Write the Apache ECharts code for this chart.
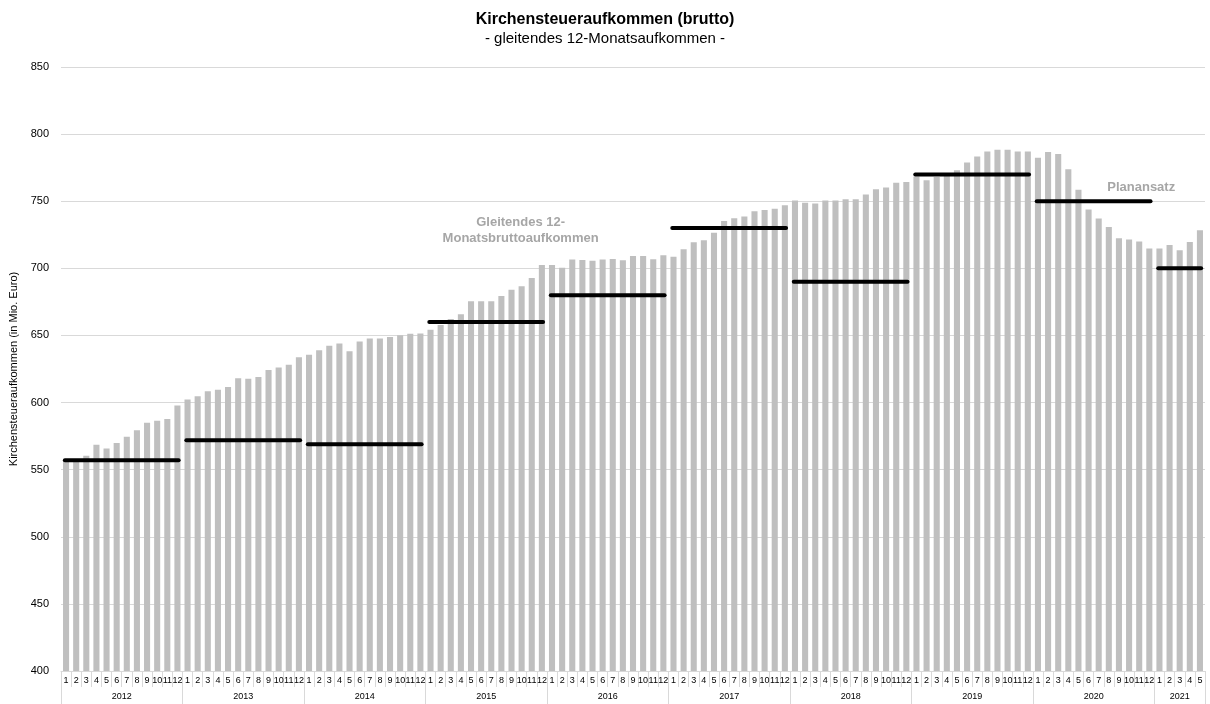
<!DOCTYPE html>
<html>
<head>
<meta charset="utf-8">
<script src="https://cdn.jsdelivr.net/npm/echarts@6/dist/echarts.min.js"></script>
<style>html,body{margin:0;padding:0;background:#fff;}#c{width:1210px;height:704px;}</style>
</head>
<body>
<div id="c"></div>
<script>
const years = ['2012','2013','2014','2015','2016','2017','2018','2019','2020','2021'];
const monthsPerYear = [12,12,12,12,12,12,12,12,12,5];
const yTicks = [400,450,500,550,600,650,700,750,800,850];

// gleitendes 12-Monatsbruttoaufkommen (Mio. Euro)
const values = [
  557.5, 557, 560.3, 568.5, 565.8, 569.8, 574.5, 579.3, 585, 586.5, 587.8, 597.8,
  602.3, 604.7, 608.5, 609.5, 611.5, 618.1, 617.8, 619.1, 624.3, 626.1, 628.1, 633.8,
  635.6, 639, 642.3, 644, 638.3, 645.5, 647.8, 647.8, 648.8, 650.2, 651.2, 651.5,
  654.2, 657.7, 662.2, 665.7, 675.4, 675.4, 675.4, 679.4, 684.1, 686.6, 692.8, 702.5,
  702.5, 700.5, 706.5, 706.2, 705.7, 706.5, 707, 706, 709.2, 709.2, 706.7, 709.7,
  708.7, 714.2, 719.4, 720.9, 726.6, 735.3, 737.3, 738.6, 742.5, 743.5, 744.3, 747,
  750.5, 748.8, 748.3, 750.5, 750.5, 751.5, 751.5, 755, 759, 760.2, 763.7, 764.4,
  768.4, 765.7, 768, 769, 773.1, 778.9, 783.3, 787.1, 788.3, 788.3, 787.1, 787.1,
  782.3, 786.6, 785.1, 773.9, 758.5, 743.8, 737.1, 730.8, 722.4, 721.4, 719.9, 714.7,
  714.7, 717.4, 713.4, 719.7, 728.4
];

// Planansatz per year
const plan = [557, 572, 569, 660, 680, 730, 690, 770, 750, 700];

const annotationTexts = ['Gleitendes 12-\nMonatsbruttoaufkommen', 'Planansatz'];
const annotationX = [45.4, 106.7];
const annotationY = [728.5, 760.5];

// build categories
const categories = [];
const yearStart = [];
const yearMid = [];
let idx = 0;
years.forEach((y, i) => {
  yearStart.push(idx);
  yearMid.push(idx + monthsPerYear[i] / 2);
  for (let m = 1; m <= monthsPerYear[i]; m++) categories.push(y + '-' + m);
  idx += monthsPerYear[i];
});
const total = idx;
const yearBounds = yearStart.concat([total]);
const planData = plan.map((v, i) => [yearStart[i], yearStart[i] + monthsPerYear[i] - 1, v]);
const annData = annotationTexts.map((t, i) => [annotationX[i], annotationY[i], i]);

const FONT = '"Liberation Sans", Arial, sans-serif';
const chart = echarts.init(document.getElementById('c'), null, {renderer: 'canvas'});
chart.setOption({
  animation: false,
  textStyle: {fontFamily: FONT},
  title: {
    text: 'Kirchensteueraufkommen (brutto)',
    subtext: '- gleitendes 12-Monatsaufkommen -',
    left: 'center', top: 7, itemGap: 3,
    textStyle: {fontFamily: FONT, fontSize: 16, fontWeight: 'bold', color: '#000'},
    subtextStyle: {fontFamily: FONT, fontSize: 15, color: '#000'}
  },
  grid: {left: 61, right: 5, top: 67, bottom: 33, containLabel: false},
  xAxis: [
    {
      type: 'category', data: categories, boundaryGap: true,
      axisLine: {show: true, lineStyle: {color: '#d9d9d9'}},
      axisTick: {show: true, interval: 0, length: 16, lineStyle: {color: '#d9d9d9'}},
      axisLabel: {interval: 0, fontSize: 9, color: '#000', margin: 5, fontFamily: FONT,
        formatter: v => v.split('-')[1]}
    },
    {
      type: 'value', min: 0, max: total, position: 'bottom',
      axisLine: {show: false},
      splitLine: {show: false},
      axisTick: {show: true, length: 33, customValues: yearBounds, lineStyle: {color: '#d9d9d9'}},
      axisLabel: {show: true, customValues: yearMid, fontSize: 9, color: '#000', margin: 21, fontFamily: FONT,
        formatter: v => { const i = yearMid.indexOf(v); return i >= 0 ? years[i] : ''; }}
    }
  ],
  yAxis: {
    type: 'value', min: yTicks[0], max: yTicks[yTicks.length - 1], interval: 50,
    name: 'Kirchensteueraufkommen (in Mio. Euro)', nameLocation: 'middle', nameGap: 37,
    nameTextStyle: {fontSize: 11, color: '#000', fontFamily: FONT},
    axisLine: {show: false}, axisTick: {show: false},
    axisLabel: {fontSize: 11, color: '#000', margin: 12, fontFamily: FONT},
    splitLine: {lineStyle: {color: '#d9d9d9', width: 1}}
  },
  series: [
    {
      type: 'bar', data: values, xAxisIndex: 0, barCategoryGap: '40%', z: 2,
      itemStyle: {color: '#bfbfbf'}, silent: true
    },
    {
      type: 'custom', xAxisIndex: 0, data: planData, z: 5, silent: true,
      encode: {x: [0, 1], y: 2},
      renderItem: function (params, api) {
        const s = api.coord([api.value(0), api.value(2)]);
        const e = api.coord([api.value(1), api.value(2)]);
        const bw = api.size([1, 0])[0];
        return {type: 'line', z2: 10,
          shape: {x1: s[0] - bw * 0.12, y1: s[1], x2: e[0] + bw * 0.12, y2: e[1]},
          style: {stroke: '#000', lineWidth: 4, lineCap: 'round'}};
      }
    },
    {
      type: 'custom', xAxisIndex: 1, data: annData, z: 6, silent: true,
      encode: {x: 0, y: 1},
      renderItem: function (params, api) {
        const p = api.coord([api.value(0), api.value(1)]);
        return {type: 'text', x: p[0], y: p[1],
          style: {text: annotationTexts[api.value(2)], fill: '#a6a6a6', fontWeight: 'bold',
            fontSize: 13, lineHeight: 16, fontFamily: FONT, align: 'center', verticalAlign: 'middle'}};
      }
    }
  ]
});
</script>
</body>
</html>
